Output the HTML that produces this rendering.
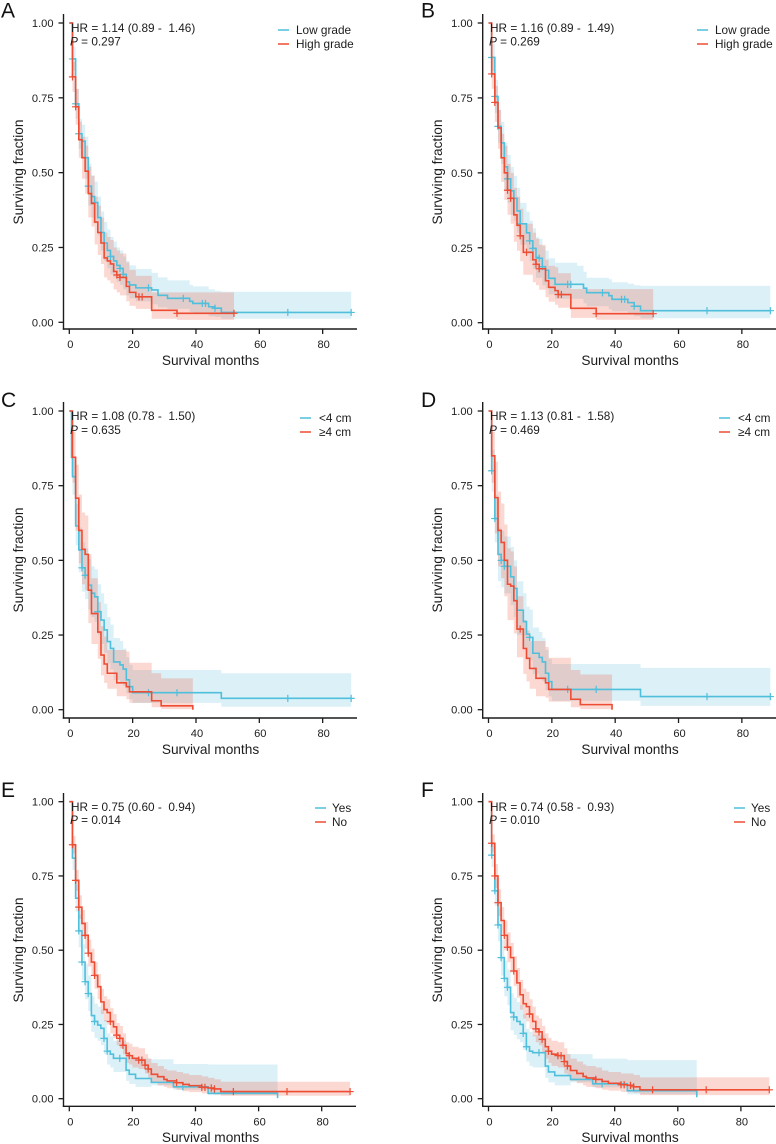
<!DOCTYPE html>
<html lang="en">
<head>
<meta charset="utf-8">
<title>Kaplan-Meier survival curves</title>
<style>
html,body{margin:0;padding:0;background:#fff}
svg{display:block;font-family:"Liberation Sans",Arial,sans-serif;fill:#1c1c1c}
.letter{font-size:21px;fill:#111}
.note,.leg{font-size:11.8px;white-space:pre}
.title{font-size:13.7px}
.tick{font-size:11.1px}
</style>
</head>
<body>
<svg id="chart" xmlns="http://www.w3.org/2000/svg" width="776" height="1144" viewBox="0 0 776 1144">
<rect width="776" height="1144" fill="#fff"/>

<g id="panel-a">
<text class="letter" x="1" y="17.5">A</text>
<text class="note" x="71" y="32">HR = 1.14 (0.89 -  1.46)</text>
<text class="note" x="70" y="45.5"><tspan font-style="italic">P</tspan> = 0.297</text>
<text class="title" transform="translate(23,172) rotate(-90)" text-anchor="middle">Surviving fraction</text>
<text class="title" x="210.500" y="365" text-anchor="middle">Survival months</text>
<line x1="278" x2="289" y1="30" y2="30" stroke="#4fbfdc" stroke-width="1.5"/>
<text class="leg" x="296" y="34">Low grade</text>
<line x1="278" x2="289" y1="44" y2="44" stroke="#ee4c33" stroke-width="1.5"/>
<text class="leg" x="296" y="48">High grade</text>
</g>

<g id="panel-b">
<text class="letter" x="421" y="17.5">B</text>
<text class="note" x="490" y="32">HR = 1.16 (0.89 -  1.49)</text>
<text class="note" x="489" y="45.5"><tspan font-style="italic">P</tspan> = 0.269</text>
<text class="title" transform="translate(442,172) rotate(-90)" text-anchor="middle">Surviving fraction</text>
<text class="title" x="630" y="365" text-anchor="middle">Survival months</text>
<line x1="697" x2="708" y1="30" y2="30" stroke="#4fbfdc" stroke-width="1.5"/>
<text class="leg" x="715" y="34">Low grade</text>
<line x1="697" x2="708" y1="44" y2="44" stroke="#ee4c33" stroke-width="1.5"/>
<text class="leg" x="715" y="48">High grade</text>
</g>

<g id="panel-c">
<text class="letter" x="1" y="407">C</text>
<text class="note" x="71" y="420">HR = 1.08 (0.78 -  1.50)</text>
<text class="note" x="70" y="434"><tspan font-style="italic">P</tspan> = 0.635</text>
<text class="title" transform="translate(23,560) rotate(-90)" text-anchor="middle">Surviving fraction</text>
<text class="title" x="210.500" y="754" text-anchor="middle">Survival months</text>
<line x1="300" x2="311" y1="418" y2="418" stroke="#4fbfdc" stroke-width="1.5"/>
<text class="leg" x="319" y="422">&lt;4 cm</text>
<line x1="300" x2="311" y1="432" y2="432" stroke="#ee4c33" stroke-width="1.5"/>
<text class="leg" x="319" y="436">≥4 cm</text>
</g>

<g id="panel-d">
<text class="letter" x="421" y="407">D</text>
<text class="note" x="490" y="420">HR = 1.13 (0.81 -  1.58)</text>
<text class="note" x="489" y="434"><tspan font-style="italic">P</tspan> = 0.469</text>
<text class="title" transform="translate(442,560) rotate(-90)" text-anchor="middle">Surviving fraction</text>
<text class="title" x="630" y="754" text-anchor="middle">Survival months</text>
<line x1="719" x2="730" y1="418" y2="418" stroke="#4fbfdc" stroke-width="1.5"/>
<text class="leg" x="738" y="422">&lt;4 cm</text>
<line x1="719" x2="730" y1="432" y2="432" stroke="#ee4c33" stroke-width="1.5"/>
<text class="leg" x="738" y="436">≥4 cm</text>
</g>

<g id="panel-e">
<text class="letter" x="1" y="797">E</text>
<text class="note" x="71" y="811">HR = 0.75 (0.60 -  0.94)</text>
<text class="note" x="70" y="824"><tspan font-style="italic">P</tspan> = 0.014</text>
<text class="title" transform="translate(23,950) rotate(-90)" text-anchor="middle">Surviving fraction</text>
<text class="title" x="210.500" y="1142" text-anchor="middle">Survival months</text>
<line x1="315" x2="326" y1="808" y2="808" stroke="#4fbfdc" stroke-width="1.5"/>
<text class="leg" x="332" y="812">Yes</text>
<line x1="315" x2="326" y1="822" y2="822" stroke="#ee4c33" stroke-width="1.5"/>
<text class="leg" x="332" y="826">No</text>
</g>

<g id="panel-f">
<text class="letter" x="421" y="797">F</text>
<text class="note" x="490" y="811">HR = 0.74 (0.58 -  0.93)</text>
<text class="note" x="489" y="824"><tspan font-style="italic">P</tspan> = 0.010</text>
<text class="title" transform="translate(442,950) rotate(-90)" text-anchor="middle">Surviving fraction</text>
<text class="title" x="630" y="1142" text-anchor="middle">Survival months</text>
<line x1="734" x2="745" y1="808" y2="808" stroke="#4fbfdc" stroke-width="1.5"/>
<text class="leg" x="751" y="812">Yes</text>
<line x1="734" x2="745" y1="822" y2="822" stroke="#ee4c33" stroke-width="1.5"/>
<text class="leg" x="751" y="826">No</text>
</g>
</svg>

<script>
// Tick labels
const xTicks = [0, 20, 40, 60, 80];
const yTicks = [0, 0.25, 0.5, 0.75, 1];
const yTickLabels = ['0.00', '0.25', '0.50', '0.75', '1.00'];

// Panel A
const aLowTime  = [0,1,2,3,4,5,6,7,8,9,10,11,12,13,14,15,16,17,18,19,21,26,28,31,38,39,44,46,48,89];
const aLowSurv  = [1,.88,.73,.63,.605,.55,.455,.42,.40,.35,.30,.265,.24,.22,.205,.19,.18,.16,.135,.125,.115,.108,.09,.08,.07,.063,.052,.047,.033,.033];
const aLowUpper = [1,.92,.78,.68,.66,.62,.53,.49,.47,.42,.37,.335,.31,.285,.27,.25,.24,.22,.205,.19,.178,.165,.15,.14,.125,.12,.11,.105,.102,.102];
const aLowLower = [1,.84,.68,.58,.55,.48,.39,.35,.33,.29,.24,.205,.18,.16,.15,.135,.125,.11,.09,.08,.07,.06,.05,.045,.035,.03,.02,.018,.012,.012];
const aLowCensor = [1,2,3,6,8,13,16,17,25,36,42,43,46,69,89];
const aHighTime  = [0,1,2,3,4,5,6,7,8,9,10,11,12,13,14,15,16,18,19,21,26,34,52];
const aHighSurv  = [1,.82,.72,.61,.55,.505,.43,.397,.335,.30,.265,.215,.205,.195,.17,.158,.15,.12,.10,.085,.04,.03,.03];
const aHighUpper = [1,.87,.78,.67,.62,.59,.52,.49,.42,.39,.35,.30,.285,.275,.25,.24,.23,.20,.175,.155,.10,.10,.10];
const aHighLower = [1,.77,.66,.55,.48,.43,.35,.32,.26,.225,.195,.15,.14,.13,.11,.10,.09,.07,.055,.045,.012,.008,.008];
const aHighCensor = [1,2,15,16,22,23,34,52];

// Panel B
const bLowTime  = [0,1,2,3,4,5,6,7,8,9,10,12,13,14,15,16,17,18,19,21,28,30,31,38,39,44,46,48,89];
const bLowSurv  = [1,.885,.755,.655,.60,.52,.48,.44,.415,.373,.33,.30,.273,.248,.218,.215,.187,.175,.148,.128,.128,.115,.10,.09,.078,.067,.055,.04,.04];
const bLowUpper = [1,.93,.81,.71,.67,.60,.56,.52,.49,.45,.40,.37,.34,.315,.285,.28,.255,.24,.215,.20,.19,.17,.15,.145,.135,.13,.125,.123,.123];
const bLowLower = [1,.84,.70,.60,.53,.44,.40,.36,.34,.30,.26,.23,.205,.18,.15,.15,.125,.115,.095,.08,.08,.065,.055,.045,.038,.03,.022,.015,.015];
const bLowCensor = [1,2,3,6,10,13,14,16,17,25,26,36,42,43,46,69,89];
const bHighTime  = [0,1,2,3,4,5,6,7,8,9,10,11,14,15,16,18,19,21,22,26,34,52];
const bHighSurv  = [1,.83,.735,.65,.55,.50,.442,.415,.36,.325,.29,.235,.21,.195,.18,.14,.118,.107,.094,.048,.03,.03];
const bHighUpper = [1,.88,.79,.71,.63,.59,.53,.50,.45,.42,.38,.33,.30,.28,.26,.21,.19,.185,.165,.112,.112,.112];
const bHighLower = [1,.78,.67,.58,.47,.41,.36,.33,.27,.24,.205,.16,.135,.125,.11,.085,.07,.06,.05,.016,.01,.01];
const bHighCensor = [1,2,6,7,10,12,15,16,22,23,34,52];

// Panel C
const cLowTime  = [0,0.7,1,2,3,4,5,6,7,8,9,10,11,12,13,14,16,17,18,19,20,48,89];
const cLowSurv  = [1,.845,.78,.615,.535,.475,.45,.417,.39,.378,.328,.30,.267,.228,.205,.16,.15,.136,.10,.077,.057,.038,.038];
const cLowUpper = [1,.90,.84,.69,.61,.56,.54,.505,.48,.47,.42,.39,.355,.31,.285,.24,.23,.205,.175,.15,.133,.122,.122];
const cLowLower = [1,.79,.72,.55,.46,.395,.37,.335,.31,.295,.25,.22,.19,.155,.135,.10,.09,.08,.055,.035,.023,.01,.01];
const cLowCensor = [4,5,9,25,34,69,89];
const cHighTime  = [0,1,2,3,4,5,6,7,9,10,11,12,15,18,19,26,29,39,39.01];
const cHighSurv  = [1,.845,.708,.60,.537,.52,.40,.322,.26,.183,.153,.122,.09,.077,.06,.03,.013,.013,0];
const cHighUpper = [1,.93,.82,.72,.66,.65,.52,.44,.36,.28,.245,.20,.20,.195,.157,.122,.105,.105,0];
const cHighLower = [1,.76,.60,.49,.42,.40,.29,.22,.17,.115,.09,.07,.045,.035,.023,.008,.002,.002,0];
const cHighCensor = [];

// Panel D
const dLowTime  = [0,1,2,3,4,5,7,8,9,11,12,13,14,16,17,18,19,20,48,89];
const dLowSurv  = [1,.80,.64,.52,.50,.48,.445,.406,.333,.295,.253,.242,.189,.175,.16,.122,.094,.068,.044,.044];
const dLowUpper = [1,.87,.72,.61,.60,.58,.545,.50,.43,.39,.345,.335,.275,.26,.24,.20,.17,.153,.14,.14];
const dLowLower = [1,.73,.56,.43,.41,.39,.35,.31,.25,.21,.17,.165,.12,.105,.095,.065,.045,.03,.013,.013];
const dLowCensor = [1,2,4,5,13,25,34,69,89];
const dHighTime  = [0,1,2,3,4,5,6,7,8,9,11,12,13,15,18,19,26,29,39,39.01];
const dHighSurv  = [1,.85,.71,.60,.56,.50,.42,.414,.365,.27,.205,.172,.138,.105,.09,.068,.035,.017,.017,0];
const dHighUpper = [1,.93,.83,.73,.69,.62,.54,.53,.48,.38,.30,.265,.23,.23,.21,.174,.133,.118,.118,0];
const dHighLower = [1,.76,.59,.48,.44,.38,.30,.30,.255,.175,.12,.095,.07,.045,.04,.027,.008,.002,.002,0];
const dHighCensor = [10];

// Panel E
const eLowTime  = [0,1,2,3,4,5,6,7,8,9,10,11,12,13,14,18,19,21,26,33,44,66,66.01];
const eLowSurv  = [1,.81,.675,.565,.46,.394,.354,.28,.26,.248,.237,.203,.16,.15,.136,.096,.082,.068,.055,.04,.018,.018,.002];
const eLowUpper = [1,.85,.72,.62,.52,.455,.415,.345,.32,.31,.30,.265,.22,.21,.195,.15,.14,.135,.133,.117,.115,.115,0];
const eLowLower = [1,.77,.63,.51,.40,.335,.295,.225,.205,.195,.18,.15,.115,.105,.09,.06,.05,.04,.045,.03,.012,.012,0];
const eLowCensor = [3,4,5,6,8,11,12,16,36];
const eHighTime  = [0,1,2,3,4,5,6,7,8,9,10,11,12,13,14,15,16,17,18,19,20,22,24,25,26,28,30,31,34,36,38,42,44,46,48,89];
const eHighSurv  = [1,.855,.735,.645,.59,.55,.49,.46,.415,.377,.326,.30,.29,.26,.242,.214,.203,.18,.152,.145,.136,.13,.113,.10,.082,.074,.065,.06,.054,.048,.044,.038,.036,.033,.024,.024];
const eHighUpper = [1,.885,.77,.685,.635,.595,.535,.505,.46,.42,.37,.345,.335,.305,.285,.255,.245,.22,.19,.185,.175,.17,.15,.135,.12,.11,.10,.095,.09,.085,.08,.075,.07,.065,.057,.057];
const eHighLower = [1,.825,.70,.605,.545,.505,.445,.415,.37,.335,.285,.26,.25,.22,.205,.18,.17,.15,.12,.115,.105,.10,.085,.07,.055,.045,.04,.035,.03,.025,.022,.018,.016,.014,.01,.01];
const eHighCensor = [1,2,3,5,6,8,13,15,16,17,19,22,23,24,25,34,42,43,45,46,52,69,89];

// Panel F
const fLowTime  = [0,1,2,3,4,5,6,7,8,9,10,11,12,13,14,18,19,21,26,33,44,66,66.01];
const fLowSurv  = [1,.82,.70,.585,.475,.405,.375,.29,.275,.26,.25,.22,.175,.16,.155,.11,.09,.078,.065,.05,.027,.027,.005];
const fLowUpper = [1,.86,.745,.64,.535,.465,.435,.355,.34,.325,.315,.285,.235,.225,.215,.17,.155,.15,.15,.135,.13,.13,0];
const fLowLower = [1,.78,.65,.53,.415,.345,.315,.23,.215,.20,.19,.165,.125,.11,.105,.07,.055,.045,.055,.038,.015,.015,0];
const fLowCensor = [1,2,3,4,5,6,8,11,12,16,36];
const fHighTime  = [0,1,2,3,4,5,6,7,8,9,10,11,12,13,14,15,16,17,18,19,20,22,24,25,26,28,30,31,34,36,38,42,44,46,48,89];
const fHighSurv  = [1,.86,.75,.66,.60,.55,.51,.475,.43,.39,.35,.32,.31,.285,.26,.235,.225,.20,.175,.16,.15,.145,.125,.11,.095,.085,.075,.07,.065,.058,.052,.047,.045,.04,.03,.03];
const fHighUpper = [1,.89,.79,.705,.645,.60,.56,.525,.48,.44,.40,.37,.36,.335,.31,.28,.27,.245,.22,.205,.195,.19,.17,.15,.135,.125,.115,.11,.105,.095,.09,.085,.085,.08,.072,.072];
const fHighLower = [1,.83,.71,.615,.555,.50,.46,.425,.38,.34,.30,.27,.26,.235,.21,.19,.18,.155,.135,.12,.11,.105,.085,.075,.06,.052,.045,.04,.035,.03,.027,.023,.022,.02,.012,.012];
const fHighCensor = [1,2,3,5,6,8,13,15,16,17,19,22,23,24,25,34,42,43,45,46,52,69,89];

const SVGNS = 'http://www.w3.org/2000/svg';
const BLUE = '#4fbfdc', RED = '#ee4c33';
const BLUE_FILL = 'rgba(84,186,216,0.21)', RED_FILL = 'rgba(238,76,51,0.22)';

const panels = [
  {id:'a', x0:69.3, pxPerMonth:3.167, yTop:23, yBottom:322.3, axisX:63.5, axisY:329, axisTop:14, axisRight:357,
    low:[aLowTime,aLowSurv,aLowUpper,aLowLower,aLowCensor], high:[aHighTime,aHighSurv,aHighUpper,aHighLower,aHighCensor]},
  {id:'b', x0:488.5, pxPerMonth:3.167, yTop:23, yBottom:322.7, axisX:482.7, axisY:329, axisTop:14, axisRight:776,
    low:[bLowTime,bLowSurv,bLowUpper,bLowLower,bLowCensor], high:[bHighTime,bHighSurv,bHighUpper,bHighLower,bHighCensor]},
  {id:'c', x0:69.3, pxPerMonth:3.167, yTop:411, yBottom:709.7, axisX:63.5, axisY:718, axisTop:402, axisRight:357,
    low:[cLowTime,cLowSurv,cLowUpper,cLowLower,cLowCensor], high:[cHighTime,cHighSurv,cHighUpper,cHighLower,cHighCensor]},
  {id:'d', x0:488.5, pxPerMonth:3.167, yTop:411, yBottom:709.7, axisX:482.7, axisY:718, axisTop:402, axisRight:776,
    low:[dLowTime,dLowSurv,dLowUpper,dLowLower,dLowCensor], high:[dHighTime,dHighSurv,dHighUpper,dHighLower,dHighCensor]},
  {id:'e', x0:69.3, pxPerMonth:3.155, yTop:801.7, yBottom:1098.7, axisX:63.5, axisY:1106.3, axisTop:793, axisRight:356,
    low:[eLowTime,eLowSurv,eLowUpper,eLowLower,eLowCensor], high:[eHighTime,eHighSurv,eHighUpper,eHighLower,eHighCensor]},
  {id:'f', x0:488.5, pxPerMonth:3.155, yTop:801.7, yBottom:1098.7, axisX:482.7, axisY:1106.3, axisTop:793, axisRight:775,
    low:[fLowTime,fLowSurv,fLowUpper,fLowLower,fLowCensor], high:[fHighTime,fHighSurv,fHighUpper,fHighLower,fHighCensor]}
];

function make(tag, attrs) {
  const el = document.createElementNS(SVGNS, tag);
  for (const k in attrs) el.setAttribute(k, attrs[k]);
  return el;
}

function stepValue(times, values, t) {
  let v = values[0];
  for (let i = 0; i < times.length; i++) { if (times[i] <= t) v = values[i]; }
  return v;
}

function drawSeries(g, series, xAt, yAt, color, fill, label) {
  const time = series[0], surv = series[1], up = series[2], lo = series[3], cens = series[4];
  let d = 'M' + xAt(time[0]) + ' ' + yAt(up[0]);
  for (let i = 1; i < time.length; i++) d += 'H' + xAt(time[i]) + 'V' + yAt(up[i]);
  for (let i = time.length - 1; i > 0; i--) d += 'V' + yAt(lo[i]) + 'H' + xAt(time[i]);
  d += 'V' + yAt(lo[0]) + 'Z';
  const band = make('path', {d: d, fill: fill, stroke: 'none'});
  
  
  g.bands.appendChild(band);

  let ld = 'M' + xAt(time[0]) + ' ' + yAt(surv[0]);
  for (let i = 1; i < time.length; i++) ld += 'H' + xAt(time[i]) + 'V' + yAt(surv[i]);
  const line = make('path', {d: ld, fill: 'none', stroke: color, 'stroke-width': 1.6});
  
  
  g.lines.appendChild(line);

  cens.forEach(function (t) {
    const cx = xAt(t), cy = yAt(stepValue(time, surv, t));
    const m = make('path', {d: 'M' + (cx - 3.6) + ' ' + cy + 'H' + (cx + 3.6) + 'M' + cx + ' ' + (cy - 3.6) + 'V' + (cy + 3.6), stroke: color, 'stroke-width': 1.2, fill: 'none'});
    
    
    g.lines.appendChild(m);
  });
}

panels.forEach(function (p) {
  const root = document.getElementById('panel-' + p.id);
  const xAt = function (t) { return +(p.x0 + t * p.pxPerMonth).toFixed(2); };
  const yAt = function (s) { return +(p.yBottom - s * (p.yBottom - p.yTop)).toFixed(2); };

  const bands = make('g', {});
  
  
  const lines = make('g', {});
  
  
  root.insertBefore(lines, root.firstChild);
  root.insertBefore(bands, root.firstChild);

  drawSeries({bands: bands, lines: lines}, p.low, xAt, yAt, BLUE, BLUE_FILL, 'low-' + p.id);
  drawSeries({bands: bands, lines: lines}, p.high, xAt, yAt, RED, RED_FILL, 'high-' + p.id);

  const yAxis = make('line', {x1: p.axisX, x2: p.axisX, y1: p.axisTop, y2: p.axisY + 0.7, stroke: '#1c1c1c', 'stroke-width': 1.4});
  
  
  root.appendChild(yAxis);

  const xAxis = make('line', {x1: p.axisX - 0.7, x2: p.axisRight, y1: p.axisY, y2: p.axisY, stroke: '#1c1c1c', 'stroke-width': 1.4});
  
  
  root.appendChild(xAxis);

  xTicks.forEach(function (t) {
    const tk = make('line', {x1: xAt(t), x2: xAt(t), y1: p.axisY, y2: p.axisY + 5, stroke: '#1c1c1c', 'stroke-width': 1.3});
    
    
    root.appendChild(tk);
    const lb = make('text', {x: xAt(t) + 1, y: p.axisY + 19, 'text-anchor': 'middle', class: 'tick'});
    
    
    lb.textContent = String(t);
    root.appendChild(lb);
  });

  yTicks.forEach(function (s, i) {
    const tk = make('line', {x1: p.axisX - 5, x2: p.axisX, y1: yAt(s), y2: yAt(s), stroke: '#1c1c1c', 'stroke-width': 1.3});
    
    
    root.appendChild(tk);
    const lb = make('text', {x: p.axisX - 10, y: yAt(s) + 4, 'text-anchor': 'end', class: 'tick'});
    
    
    lb.textContent = yTickLabels[i];
    root.appendChild(lb);
  });
});
</script>
</body>
</html>
